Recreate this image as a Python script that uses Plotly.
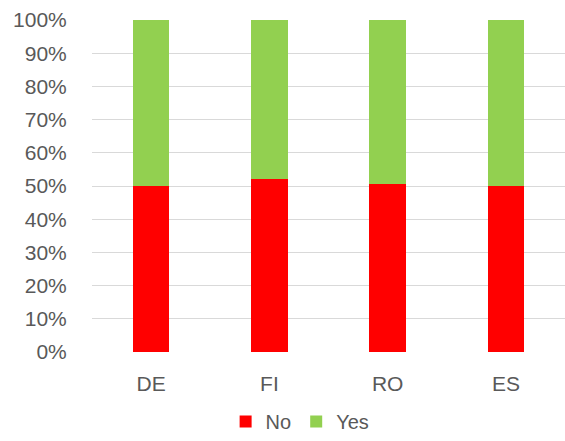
import plotly.graph_objects as go

categories = ["DE", "FI", "RO", "ES"]
no_share = [0.500, 0.521, 0.505, 0.500]
yes_share = [1 - v for v in no_share]

fig = go.Figure()
fig.add_trace(go.Bar(x=categories, y=no_share, name="No", marker_color="#FF0000",
                     marker_line_width=0))
fig.add_trace(go.Bar(x=categories, y=yes_share, name="Yes", marker_color="#92D050",
                     marker_line_width=0))

fig.update_layout(
    width=565, height=441,
    barmode="stack", bargap=0.69,
    margin=dict(l=92, r=0, t=20, b=89),
    plot_bgcolor="white", paper_bgcolor="white",
    font=dict(family="Liberation Sans, Arial", size=21, color="#595959"),
    showlegend=True,
    legend=dict(orientation="h", x=0.44, xanchor="center", y=-0.268, yanchor="bottom",
                traceorder="normal", itemwidth=30, font=dict(size=20)),
)
fig.update_yaxes(range=[0, 1], dtick=0.1, tickformat=".0%", showgrid=True,
                 gridcolor="#D9D9D9", gridwidth=1, zeroline=False, showline=False,
                 ticks="outside", ticklen=20, tickcolor="rgba(0,0,0,0)")
fig.update_xaxes(showline=False, showgrid=False, ticks="outside", ticklen=13,
                 tickcolor="rgba(0,0,0,0)", range=[-0.5, 3.5])

fig.write_html("out.html")
